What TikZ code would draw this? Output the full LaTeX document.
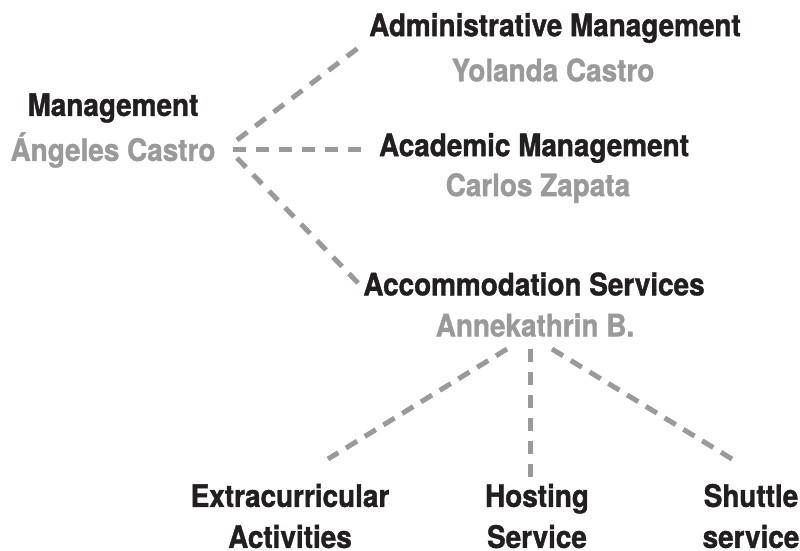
\documentclass[tikz,border=0pt]{standalone}
\usepackage{fontspec}
\setmainfont{TeX Gyre Heros}[BoldFont={* Bold},BoldFeatures={FakeStretch=0.9,FakeBold=1.2}]
\definecolor{ink}{HTML}{231F20}
\definecolor{soft}{HTML}{9A9A9A}
\tikzset{
  role/.style={font=\fontsize{31}{41}\selectfont\bfseries, text=ink, inner sep=0pt, align=center},
  person/.style={font=\fontsize{31}{41}\selectfont\bfseries, text=soft, inner sep=0pt},
  link/.style={draw=soft, line width=5pt, dash pattern=on 13pt off 10pt},
  slant/.style={link, dash pattern=on 13pt off 9pt}
}
\begin{document}
\begin{tikzpicture}[x=1pt,y=-1pt]
\useasboundingbox (0,0) rectangle (800,550);
\node[role] (mg) at (113,108) {Management};
\node[person] (mgp) at (113,150) {Ángeles Castro};
\node[role] (ad) at (555,28) {Administrative Management};
\node[person] (adp) at (553,70) {Yolanda Castro};
\node[role] (ac) at (534,148) {Academic Management};
\node[person] (acp) at (538,188) {Carlos Zapata};
\node[role] (as) at (534,284) {Accommodation Services};
\node[person] (asp) at (535,325) {Annekathrin B.};
\node[role] (ex) at (290,516) {Extracurricular\\Activities};
\node[role] (ho) at (537,516) {Hosting\\Service};
\node[role] (sh) at (751,516) {Shuttle\\service};
\coordinate (m1) at (237,140);
\coordinate (m2) at (233,149);
\coordinate (m3) at (237,158);
\coordinate (a1) at (362,45);
\coordinate (a2) at (362,149);
\coordinate (a3) at (360,285);
\coordinate (s1) at (507,349);
\coordinate (s2) at (530,349);
\coordinate (s3) at (552,349);
\coordinate (e1) at (328,459);
\coordinate (e2) at (530,478);
\coordinate (e3) at (732,459);
\draw[link] (m1) -- (a1);
\draw[link] (m2) -- (a2);
\draw[link] (m3) -- (a3);
\draw[slant] (s1) -- (e1);
\draw[link] (s2) -- (e2);
\draw[slant] (s3) -- (e3);
\end{tikzpicture}
\end{document}
